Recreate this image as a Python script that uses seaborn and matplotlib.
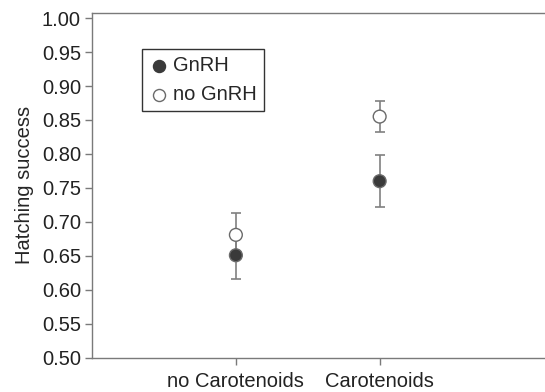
import pandas as pd
import matplotlib.pyplot as plt
import seaborn as sns
import numpy as np

# values
diets = ['no Carotenoids', 'Carotenoids']
gnrh_mean = [0.651, 0.760]
gnrh_err = [0.035, 0.038]
nognrh_mean = [0.681, 0.855]
nognrh_err = [0.032, 0.023]

df = pd.DataFrame({
    'diet': diets * 2,
    'treatment': ['GnRH'] * 2 + ['no GnRH'] * 2,
    'success': gnrh_mean + nognrh_mean,
    'err': gnrh_err + nognrh_err,
})
df['x'] = df['diet'].map({d: i + 1 for i, d in enumerate(diets)})

sns.set_style('ticks')
plt.rcParams['font.family'] = ['Liberation Sans', 'DejaVu Sans']
fs = 14.5

fig = plt.figure(figsize=(5.45, 3.92), dpi=100)
ax = fig.add_axes([0.169, 0.087, 0.831, 0.88])

# error bars first, markers on top
ax.errorbar(df['x'], df['success'], yerr=df['err'], fmt='none',
            ecolor='#808080', elinewidth=1.2, capsize=3.8, capthick=1.2, zorder=2)
sns.scatterplot(data=df, x='x', y='success', hue='treatment',
                palette={'GnRH': '#3a3a3a', 'no GnRH': 'white'},
                edgecolor='#6a6a6a', linewidth=1, s=85, ax=ax, zorder=3, legend=False)

# legend by hand
ax.scatter([], [], s=75, color='#3a3a3a', edgecolor='#3a3a3a', label='GnRH')
ax.scatter([], [], s=75, color='white', edgecolor='#6a6a6a', label='no GnRH')
leg = ax.legend(loc='upper left', bbox_to_anchor=(0.11, 0.896), borderaxespad=0,
                frameon=True, fancybox=False, edgecolor='black', fontsize=fs,
                handletextpad=0.2, borderpad=0.35, labelspacing=0.5, handlelength=1.0)
leg.get_frame().set_linewidth(1.0)

ax.set_xlim(0, 3.15)
ax.set_ylim(0.5, 1.0075)
ax.set_xticks([1, 2])
ax.set_xticklabels(diets, fontsize=fs)
yt = np.arange(0.5, 1.001, 0.05)
ax.set_yticks(yt)
ax.set_yticklabels(['%.2f' % v for v in yt], fontsize=fs)
ax.set_xlabel('')
ax.set_ylabel('Hatching success', fontsize=fs, labelpad=6)
ax.tick_params(colors='#7a7a7a', labelcolor='#222222', length=5, width=1)
ax.tick_params(axis='x', pad=5)
ax.tick_params(axis='y', pad=3)
for side in ['left', 'bottom', 'top']:
    ax.spines[side].set_color('#7a7a7a')
    ax.spines[side].set_linewidth(1)
ax.spines['right'].set_visible(False)

fig.savefig('out.png', dpi=100)
